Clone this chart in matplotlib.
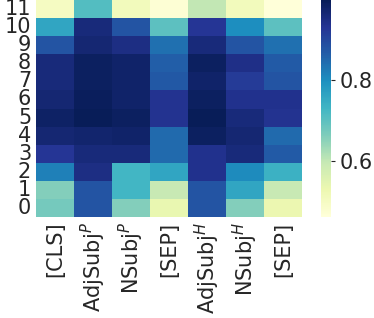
import numpy as np
import matplotlib
matplotlib.use("Agg")
import matplotlib.pyplot as plt
import seaborn as sns

columns = ["[CLS]", "AdjSubj$^P$", "NSubj$^P$", "[SEP]", "AdjSubj$^H$", "NSubj$^H$", "[SEP]"]
layers = list(range(12))

# values per layer (row 0 .. row 11), columns in order above
layer_0 = [0.675, 0.88, 0.66, 0.535, 0.88, 0.66, 0.53]
layer_1 = [0.66, 0.88, 0.73, 0.595, 0.88, 0.76, 0.595]
layer_2 = [0.82, 0.95, 0.73, 0.76, 0.94, 0.805, 0.74]
layer_3 = [0.93, 0.96, 0.96, 0.85, 0.94, 0.96, 0.87]
layer_4 = [0.97, 0.975, 0.98, 0.85, 0.99, 0.97, 0.85]
layer_5 = [0.985, 1.0, 0.99, 0.935, 1.0, 0.96, 0.935]
layer_6 = [0.97, 0.995, 0.98, 0.935, 0.99, 0.94, 0.94]
layer_7 = [0.96, 0.99, 0.98, 0.875, 0.98, 0.92, 0.88]
layer_8 = [0.96, 0.99, 0.98, 0.865, 0.99, 0.946, 0.87]
layer_9 = [0.88, 0.97, 0.95, 0.84, 0.96, 0.88, 0.84]
layer_10 = [0.76, 0.96, 0.88, 0.70, 0.93, 0.80, 0.70]
layer_11 = [0.50, 0.71, 0.51, 0.47, 0.60, 0.51, 0.46]

data = np.array([layer_0, layer_1, layer_2, layer_3, layer_4, layer_5,
                 layer_6, layer_7, layer_8, layer_9, layer_10, layer_11])

W, H = 374, 318
fig = plt.figure(figsize=(W / 100, H / 100), dpi=100)
ax = fig.add_axes([36 / W, (H - 217) / H, 266 / W, 217 / H])
cax = fig.add_axes([321 / W, (H - 217) / H, 10 / W, 217 / H])

sns.heatmap(data, ax=ax, cbar_ax=cax, cmap="YlGnBu",
            xticklabels=columns, yticklabels=layers)
ax.invert_yaxis()
ax.tick_params(axis="both", length=0, labelsize=15, colors="#262626")
plt.setp(ax.get_xticklabels(), rotation=90)
plt.setp(ax.get_yticklabels(), rotation=0)
cax.set_yticks([0.6, 0.8])
cax.tick_params(labelsize=15, colors="#262626", length=3)
cax.set_frame_on(False)

fig.savefig("out.png", dpi=100)
